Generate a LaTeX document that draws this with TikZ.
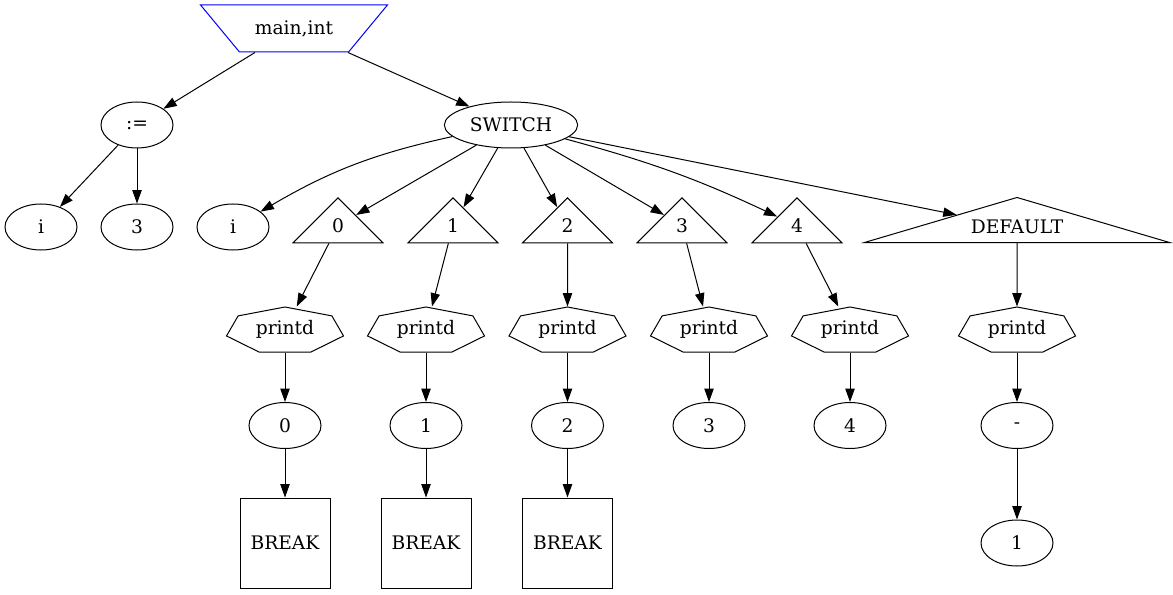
\documentclass[tikz,border=0pt]{standalone}
\usepackage{fontspec}
\setmainfont{DejaVu Serif}
\usetikzlibrary{shapes.geometric,arrows.meta}
\tikzset{
  oval/.style={ellipse, draw, minimum width=54pt, minimum height=34.5pt, inner sep=0pt},
  tri/.style={isosceles triangle, shape border rotate=90, isosceles triangle stretches, draw, inner sep=0pt, minimum width=67.5pt, minimum height=33.75pt},
  widetri/.style={isosceles triangle, shape border rotate=90, isosceles triangle apex angle=147.1, draw, inner sep=0pt, minimum width=228.75pt},
  hept/.style={minimum width=87.75pt, minimum height=33.75pt, inner sep=0pt,
    append after command={\pgfextra{\draw ([shift={(0,-22.5)}]\tikzlastnode.center) -- ([shift={(-46.9,-13.6)}]\tikzlastnode.center) -- ([shift={(-58.5,6.45)}]\tikzlastnode.center) -- ([shift={(-26,22.5)}]\tikzlastnode.center) -- ([shift={(26,22.5)}]\tikzlastnode.center) -- ([shift={(58.5,6.45)}]\tikzlastnode.center) -- ([shift={(46.9,-13.6)}]\tikzlastnode.center) -- cycle;}}},
  box/.style={rectangle, draw, minimum size=67.5pt},
  arr/.style={-{Triangle[length=10pt,width=7pt]}}
}
\begin{document}
\begin{tikzpicture}[x=0.75pt, y=-0.75pt, line width=0.75pt, font=\fontsize{14}{16.8}\selectfont]
\useasboundingbox (0,0) rectangle (1173,595);

\node[trapezium, shape border rotate=180, trapezium left angle=39, trapezium right angle=39, trapezium stretches, minimum width=140.25pt, minimum height=35.25pt, draw=blue] (main) at (294,28.5) {main,int};
\node[oval] (assign) at (137,125) {:=};
\node[oval, minimum width=100pt] (sw) at (511,125) {SWITCH};
\node[oval] (i1) at (41,227) {i};
\node[oval] (c3) at (137,227) {3};
\node[oval] (i2) at (233,227) {i};
\node[tri] (t0) at (338,225.5) {0};
\node[tri] (t1) at (453,225.5) {1};
\node[tri] (t2) at (567.5,225.5) {2};
\node[tri] (t3) at (682,225.5) {3};
\node[tri] (t4) at (797,225.5) {4};
\node[widetri] (td) at (1017,227) {DEFAULT};
\node[hept] (p0) at (285,329.5) {printd};
\node[hept] (p1) at (426,329.5) {printd};
\node[hept] (p2) at (567.5,329.5) {printd};
\node[hept] (p3) at (709,329.5) {printd};
\node[hept] (p4) at (850,329.5) {printd};
\node[hept] (pd) at (1017,329.5) {printd};
\node[oval] (n0) at (285,425.5) {0};
\node[oval] (n1) at (426,425.5) {1};
\node[oval] (n2) at (567.5,425.5) {2};
\node[oval] (n3) at (709,425.5) {3};
\node[oval] (n4) at (850,425.5) {4};
\node[oval] (nm) at (1017,425.5) {-};
\node[box] (b0) at (285,543) {BREAK};
\node[box] (b1) at (426,543) {BREAK};
\node[box] (b2) at (567.5,543) {BREAK};
\node[oval] (one) at (1017,543) {1};

\draw[arr] (main) -- (assign);
\draw[arr] (main) -- (sw);
\draw[arr] (assign) -- (i1);
\draw[arr] (assign) -- (c3);
\draw[arr] (sw) to[bend right=9] (i2);
\draw[arr] (sw) -- (t0);
\draw[arr] (sw) -- (t1);
\draw[arr] (sw) -- (t2);
\draw[arr] (sw) -- (t3);
\draw[arr] (sw) to[bend left=5] (t4);
\draw[arr] (sw) -- (td);
\draw[arr] (t0) -- (p0);
\draw[arr] (t1) -- (p1);
\draw[arr] (t2) -- (p2);
\draw[arr] (t3) -- (p3);
\draw[arr] (t4) -- (p4);
\draw[arr] (td) -- (pd);
\draw[arr] (p0) -- (n0);
\draw[arr] (p1) -- (n1);
\draw[arr] (p2) -- (n2);
\draw[arr] (p3) -- (n3);
\draw[arr] (p4) -- (n4);
\draw[arr] (pd) -- (nm);
\draw[arr] (n0) -- (b0);
\draw[arr] (n1) -- (b1);
\draw[arr] (n2) -- (b2);
\draw[arr] (nm) -- (one);
\end{tikzpicture}
\end{document}
